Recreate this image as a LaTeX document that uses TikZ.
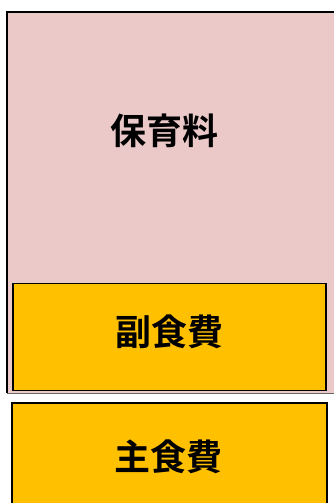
\documentclass[tikz,border=0pt]{standalone}
\usepackage{fontspec}
\newfontfamily\cjk{Noto Sans CJK JP Bold}
\definecolor{pinkbg}{HTML}{EBC9C9}
\definecolor{yel}{HTML}{FFC000}
\begin{document}
\begin{tikzpicture}[x=1pt,y=-1pt,
  lbl/.style={font=\cjk\fontsize{36}{40}\selectfont, text=black, inner sep=0pt},
  ybox/.style={draw=black, line width=1.4pt, fill=yel}]
\useasboundingbox (0,0) rectangle (334,503);
\fill[white] (0,0) rectangle (334,503);
\fill[pinkbg] (6.5,12.5) rectangle (334,393);
\draw[line width=2pt] (336,12.5) -- (6.5,12.5) -- (6.5,393);
\draw[line width=1pt, black!60] (6.5,393) -- (336,393);
\node[ybox, minimum width=313pt, minimum height=107pt, inner sep=0pt] (fuku) at (169.5,337) {};
\node[lbl] (hoiku) at (164,131) {保育料};
\node[lbl] (fukul) at (169,332) {副食費};
\node[ybox, minimum width=315pt, minimum height=110pt, inner sep=0pt] (shu) at (169.5,458) {};
\node[lbl] (shul) at (168,457) {主食費};
\end{tikzpicture}
\end{document}
